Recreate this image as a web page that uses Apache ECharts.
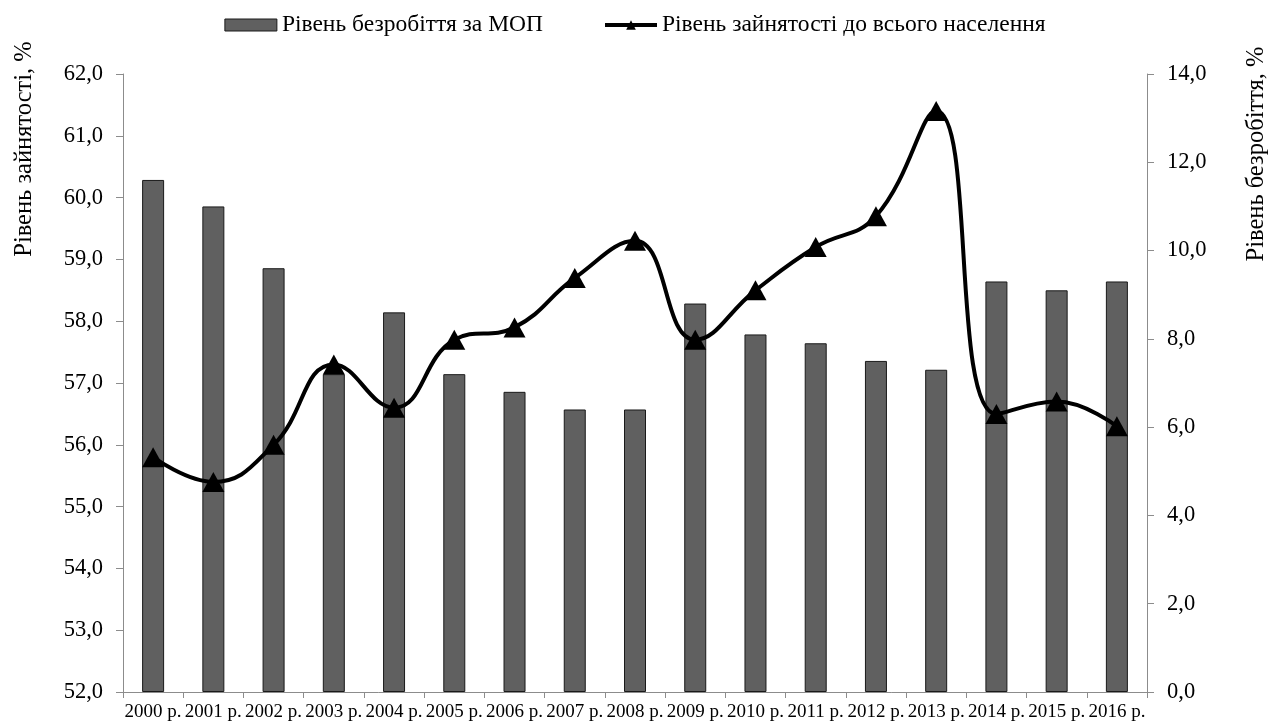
<!DOCTYPE html>
<html>
<head>
<meta charset="utf-8">
<script src="https://cdn.jsdelivr.net/npm/echarts@6/dist/echarts.min.js"></script>
<style>
html,body{margin:0;padding:0;background:#fff;}
#c{width:1270px;height:727px;}
</style>
</head>
<body>
<div id="c"></div>
<script>
const years = ['2000 р.','2001 р.','2002 р.','2003 р.','2004 р.','2005 р.','2006 р.','2007 р.','2008 р.','2009 р.','2010 р.','2011 р.','2012 р.','2013 р.','2014 р.','2015 р.','2016 р.'];
const unemployment = [11.6, 11.0, 9.6, 7.2, 8.6, 7.2, 6.8, 6.4, 6.4, 8.8, 8.1, 7.9, 7.5, 7.3, 9.3, 9.1, 9.3];
const employment = [55.8, 55.4, 56.0, 57.3, 56.6, 57.7, 57.9, 58.7, 59.3, 57.7, 58.5, 59.2, 59.7, 61.4, 56.5, 56.7, 56.3];
const barName = 'Рівень безробіття за МОП';
const lineName = 'Рівень зайнятості до всього населення';
const leftTitle = 'Рівень зайнятості, %';
const rightTitle = 'Рівень безробіття, %';

const FONT = '"Liberation Serif","Times New Roman",serif';
const fmt = v => v.toFixed(1).replace('.', ',');
const axisGray = '#8c8c8c';

const chart = echarts.init(document.getElementById('c'));
chart.setOption({
  animation: false,
  backgroundColor: '#fff',
  textStyle: {fontFamily: FONT, color: '#000'},
  legend: {
    top: 8,
    left: 'center',
    itemGap: 60,
    itemWidth: 52,
    itemHeight: 12,
    textStyle: {fontFamily: FONT, fontSize: 23.5, color: '#000'},
    data: [
      {name: barName, icon: 'rect', itemStyle: {color: '#606060', borderColor: '#1a1a1a', borderWidth: 1}},
      {name: lineName, lineStyle: {width: 4, color: '#000'}}
    ]
  },
  grid: {left: 123, right: 123, top: 74, bottom: 35},
  xAxis: {
    type: 'category',
    data: years,
    boundaryGap: true,
    axisLine: {lineStyle: {color: axisGray, width: 1}},
    axisTick: {show: true, length: 6, alignWithLabel: false, lineStyle: {color: axisGray}},
    axisLabel: {fontFamily: FONT, fontSize: 19, color: '#000', margin: 11, interval: 0}
  },
  yAxis: [
    {
      type: 'value', min: 52, max: 62, interval: 1, position: 'left',
      axisLine: {show: true, lineStyle: {color: axisGray}},
      axisTick: {show: true, length: 7, lineStyle: {color: axisGray}},
      splitLine: {show: false},
      axisLabel: {fontFamily: FONT, fontSize: 22.5, color: '#000', margin: 20, formatter: fmt}
    },
    {
      type: 'value', min: 0, max: 14, interval: 2, position: 'right',
      axisLine: {show: true, lineStyle: {color: axisGray}},
      axisTick: {show: true, length: 7, lineStyle: {color: axisGray}},
      splitLine: {show: false},
      axisLabel: {fontFamily: FONT, fontSize: 22.5, color: '#000', margin: 20, formatter: fmt}
    }
  ],
  graphic: [
    {type: 'text', x: 25, y: 149, rotation: Math.PI / 2,
     style: {text: leftTitle, font: '24.5px ' + FONT, fill: '#000', textAlign: 'center', textVerticalAlign: 'middle'}},
    {type: 'text', x: 1257, y: 154, rotation: Math.PI / 2,
     style: {text: rightTitle, font: '24.5px ' + FONT, fill: '#000', textAlign: 'center', textVerticalAlign: 'middle'}}
  ],
  series: [
    {
      name: barName, type: 'bar', yAxisIndex: 1, data: unemployment,
      barWidth: 22,
      itemStyle: {color: '#606060', borderColor: '#1a1a1a', borderWidth: 1}
    },
    {
      name: lineName, type: 'line', yAxisIndex: 0, data: employment,
      smooth: 0.45,
      symbol: 'triangle', symbolSize: [22, 20],
      lineStyle: {color: '#000', width: 4},
      itemStyle: {color: '#000'},
      z: 5
    }
  ]
});
</script>
</body>
</html>
